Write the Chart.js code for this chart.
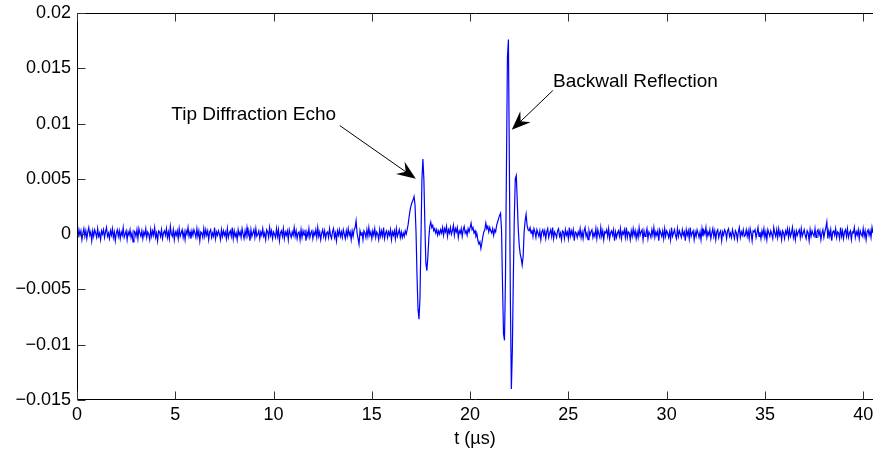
<!DOCTYPE html>
<html>
<head>
<meta charset="utf-8">
<script src="https://cdn.jsdelivr.net/npm/chart.js@4.4.0/dist/chart.umd.min.js"></script>
<style>
html, body { margin: 0; padding: 0; background: #fff; overflow: hidden; }
#wrap { width: 873px; height: 452px; }
</style>
</head>
<body>
<div id="wrap"><canvas id="myChart" width="873" height="452"></canvas></div>
<script>
// scope trace, one amplitude every 0.05 us
var sampleStep = 0.05;

// 0.00 .. 16.95 us
var leadIn = [
 .0002,-.0003,.0004,-.0001,.0003,-.0005,.0001,.0005,-.0002,.0003,
 -.0004,.0002,.0006,-.0001,.0002,-.0006,.0003,-.0002,.0004,.0001,
 -.0003,.0005,-.0002,.0001,-.0005,.0003,.0000,.0004,-.0003,.0002,
 .0006,-.0002,.0001,-.0004,.0003,-.0001,.0005,-.0003,.0002,-.0006,
 .0001,.0004,-.0002,.0003,-.0004,.0002,-.0001,.0006,-.0003,.0000,
 .0003,-.0005,.0002,-.0001,.0004,-.0003,.0001,-.0007,.0003,.0002,
 -.0002,.0004,-.0004,.0005,.0001,-.0002,.0003,-.0004,.0002,-.0001,
 .0005,-.0003,.0002,.0000,-.0005,.0004,-.0002,.0003,-.0001,.0006,
 -.0003,.0001,-.0006,.0003,.0002,-.0002,.0004,-.0004,.0001,.0003,
 -.0001,.0005,-.0003,.0002,-.0004,.0007,.0000,-.0002,.0004,-.0005,
 .0002,-.0001,.0003,-.0004,.0005,-.0002,.0001,.0004,-.0003,.0002,
 -.0005,.0003,.0000,.0006,-.0002,.0002,-.0004,.0003,-.0001,.0004,
 .0001,-.0003,.0005,-.0002,.0003,-.0006,.0002,.0001,-.0003,.0005,
 -.0002,.0004,-.0001,.0003,-.0005,.0002,.0004,-.0003,.0001,-.0002,
 .0006,-.0004,.0002,-.0001,.0003,.0000,-.0005,.0004,-.0002,.0003,
 -.0001,.0002,-.0004,.0005,-.0003,.0001,.0003,-.0002,.0006,-.0004,
 .0003,-.0002,.0001,-.0005,.0004,-.0001,.0002,-.0003,.0005,.0000,
 -.0004,.0003,-.0002,.0006,-.0001,.0002,-.0006,.0004,-.0002,.0001,
 .0004,-.0003,.0005,-.0002,.0000,.0003,-.0004,.0002,-.0001,.0005,
 -.0002,.0001,-.0005,.0004,.0002,-.0003,.0006,-.0001,.0003,-.0004,
 .0002,.0000,-.0003,.0005,-.0002,.0004,-.0006,.0001,.0003,-.0002,
 .0005,-.0004,.0002,-.0001,.0003,-.0005,.0004,.0000,-.0003,.0002,
 -.0001,.0006,-.0002,.0003,-.0004,.0001,.0002,-.0005,.0004,-.0003,
 .0003,-.0001,.0004,-.0006,.0002,-.0002,.0005,-.0003,.0001,.0003,
 -.0004,.0002,-.0001,.0004,-.0003,.0006,-.0002,.0002,-.0005,.0001,
 .0004,-.0002,.0003,-.0004,.0001,.0002,-.0003,.0005,-.0001,-.0004,
 .0002,.0005,-.0003,.0001,-.0006,.0003,-.0001,.0004,-.0002,.0002,
 -.0003,.0004,.0000,-.0004,.0003,-.0002,.0005,-.0001,.0002,-.0005,
 .0003,-.0002,.0004,.0006,.0012,.0001,-.0004,-.0009,.0003,-.0001,
 .0002,-.0005,.0003,.0001,-.0003,.0004,-.0002,.0006,-.0001,.0002,
 -.0004,.0003,-.0001,.0005,-.0003,.0002,.0000,-.0005,.0004,-.0002,
 .0003,-.0002,.0006,-.0004,.0001,.0003,-.0003,.0002,-.0001,.0004,
 -.0005,.0002,-.0001,.0003,-.0004,.0005,-.0002,.0001,.0004,-.0003,
 .0002,-.0003,.0001,-.0002,.0003,.0000,.0004,.0009,.0016,.0022
];

// 17.00 .. 18.45 us
var tipEcho = [
 .0026,.0029,.0031,.0034,.0026,.0002,-.0038,-.0068,-.0077,-.0058,
 -.0005,.0050,.0068,.0049,.0008,-.0026,-.0033,-.0021,-.0004,.0007,
 .0011,.0006,.0008,.0003,.0005,.0001,.0004,-.0001,.0003,.0000
];

// 18.50 .. 21.45 us
var midGap = [
 .0004,.0001,.0006,-.0001,.0005,.0002,.0007,-.0002,.0004,.0001,
 .0006,.0000,.0003,.0008,-.0001,.0005,.0002,.0006,-.0003,.0003,
 .0001,.0005,-.0002,.0004,.0007,.0001,.0003,-.0001,.0005,.0002,
 .0006,.0010,.0004,.0006,.0001,.0003,-.0002,.0000,-.0006,-.0009,
 -.0007,-.0013,-.0008,-.0002,.0002,.0004,.0010,.0005,.0007,.0002,
 .0006,.0003,.0001,.0005,-.0001,.0004,.0002,.0008,.0011,.0014
];

// 21.50 .. 22.95 us
var backwallEcho = [
 .0017,.0019,.0004,-.0045,-.0090,-.0096,-.0040,.0060,.0160,.0176,
 .0060,-.0060,-.0140,-.0105,-.0040,.0015,.0050,.0053,.0030,.0005,
 -.0010,-.0018,-.0022,-.0028,-.0020,.0002,.0012,.0018,.0008,.0004
];

// 23.00 .. 40.50 us
var tail = [
 .0003,.0006,.0001,.0004,-.0002,.0005,.0002,-.0003,.0004,.0001,
 -.0002,.0003,-.0005,.0002,.0004,-.0001,.0003,-.0004,.0002,.0005,
 -.0003,.0001,.0004,-.0002,.0006,-.0004,.0002,.0000,-.0003,.0003,
 .0005,-.0002,.0001,-.0005,.0003,.0002,-.0004,.0004,-.0001,.0002,
 -.0004,.0006,-.0002,.0003,-.0001,.0004,-.0006,.0002,.0001,-.0003,
 .0002,-.0001,.0005,-.0003,.0002,-.0004,.0003,.0006,-.0002,.0001,
 -.0005,.0003,-.0001,.0002,.0004,-.0003,.0001,-.0002,.0005,-.0004,
 .0004,.0000,-.0003,.0006,-.0002,.0003,-.0005,.0002,.0001,.0004,
 -.0002,.0005,-.0004,.0001,.0003,-.0001,.0004,-.0006,.0002,-.0003,
 .0001,.0003,-.0002,.0005,-.0004,.0002,.0000,.0004,-.0003,.0006,
 -.0003,.0002,.0001,-.0005,.0003,-.0002,.0005,-.0001,.0003,-.0004,
 .0002,-.0003,.0006,-.0001,.0002,.0004,-.0005,.0003,-.0002,.0001,
 .0005,-.0004,.0002,.0000,-.0003,.0004,-.0001,.0006,-.0003,.0002,
 -.0001,.0003,-.0006,.0004,.0001,-.0002,.0003,-.0004,.0005,-.0002,
 .0003,.0001,-.0003,.0002,-.0005,.0006,-.0002,.0001,.0004,-.0001,
 -.0004,.0005,-.0002,.0003,.0000,-.0003,.0004,-.0001,.0002,-.0006,
 .0004,-.0001,.0003,-.0004,.0006,-.0002,.0001,.0003,-.0005,.0002,
 -.0002,.0004,.0001,-.0003,.0002,-.0005,.0005,-.0002,.0003,.0000,
 .0006,-.0003,.0002,-.0001,.0004,-.0004,.0001,.0005,-.0002,.0003,
 -.0005,.0002,.0004,-.0003,.0001,.0003,-.0006,.0002,-.0001,.0004,
 .0002,-.0004,.0003,.0005,-.0002,.0001,-.0003,.0004,.0000,-.0004,
 .0003,.0001,-.0005,.0002,.0006,-.0003,.0002,-.0001,.0004,-.0002,
 -.0001,.0004,-.0002,.0003,-.0004,.0005,.0001,-.0006,.0003,.0002,
 .0004,-.0003,.0001,.0006,-.0002,.0002,-.0004,.0003,-.0001,.0005,
 -.0003,.0002,-.0005,.0004,.0001,-.0002,.0003,.0000,-.0004,.0006,
 .0001,-.0002,.0004,-.0003,.0005,-.0001,.0002,-.0005,.0003,.0001,
 -.0004,.0003,.0000,.0005,-.0003,.0004,-.0002,.0001,.0006,-.0003,
 .0002,-.0005,.0003,-.0001,.0002,.0004,-.0003,.0005,-.0002,.0001,
 .0004,-.0001,-.0004,.0003,.0001,-.0006,.0004,-.0002,.0003,.0000,
 -.0002,.0005,-.0003,.0002,.0004,-.0001,.0003,-.0005,.0001,.0004,
 -.0003,.0002,.0006,.0011,-.0004,.0003,-.0002,.0004,-.0006,.0002,
 .0003,-.0001,.0005,-.0003,.0002,.0001,-.0004,.0006,-.0002,.0003,
 -.0004,.0002,.0004,-.0002,.0005,-.0003,.0001,.0003,-.0005,.0002,
 .0001,.0006,-.0003,.0002,-.0001,.0004,-.0004,.0003,.0000,-.0002,
 .0005,-.0002,.0003,-.0005,.0002,.0004,-.0001,.0003,-.0003,.0006,
 .0001
];

var segments = [
  { start: 0, values: leadIn },
  { start: 17.0, values: tipEcho },
  { start: 18.5, values: midGap },
  { start: 21.5, values: backwallEcho },
  { start: 23.0, values: tail }
];

var xTicks = [0, 5, 10, 15, 20, 25, 30, 35, 40];
var yTicks = [-0.015, -0.01, -0.005, 0, 0.005, 0.01, 0.015, 0.02];

// annotation text and arrows, in data units
var notes = [
  { text: 'Tip Diffraction Echo', tx: 4.8, ty: 0.01035, from: [13.37, 0.00982], to: [17.24, 0.0050] },
  { text: 'Backwall Reflection', tx: 24.22, ty: 0.01329, from: [24.21, 0.01299], to: [22.12, 0.00943] }
];

var points = [];
segments.forEach(function (s) {
  s.values.forEach(function (v, i) {
    points.push({ x: +(s.start + i * sampleStep).toFixed(2), y: v });
  });
});

var FONT = 'Liberation Sans, Arial, Helvetica, sans-serif';

function fmt(v) {
  return String(Number(v.toFixed(4))).replace('-', '\u2212');
}

var matlabFrame = {
  id: 'matlabFrame',
  afterDatasetsDraw: function (chart) {
    var c = chart.ctx, a = chart.chartArea;
    var xs = chart.scales.x, ys = chart.scales.y;
    var L = Math.round(a.left) + 0.5, R = Math.round(a.right) + 0.5;
    var T = Math.round(a.top) + 0.5, B = Math.round(a.bottom) - 0.5;
    c.save();
    c.strokeStyle = '#000';
    c.lineWidth = 1;
    c.beginPath();
    c.moveTo(L, T); c.lineTo(R, T);
    c.moveTo(L, T); c.lineTo(L, B);
    c.moveTo(L, B); c.lineTo(R, B);
    c.stroke();
    // inward tick marks
    c.strokeStyle = '#333';
    c.beginPath();
    xTicks.forEach(function (t) {
      var px = Math.round(xs.getPixelForValue(t)) + 0.5;
      c.moveTo(px, B); c.lineTo(px, B - 8);
      c.moveTo(px, T); c.lineTo(px, T + 8);
    });
    yTicks.forEach(function (t) {
      var py = Math.round(ys.getPixelForValue(t)) + 0.5;
      c.moveTo(L, py); c.lineTo(L + 8, py);
    });
    c.stroke();

    // annotations
    c.fillStyle = '#000';
    c.strokeStyle = '#000';
    c.font = '19px ' + FONT;
    c.textBaseline = 'alphabetic';
    c.textAlign = 'left';
    notes.forEach(function (n) {
      c.fillText(n.text, xs.getPixelForValue(n.tx), ys.getPixelForValue(n.ty));
      var x0 = xs.getPixelForValue(n.from[0]), y0 = ys.getPixelForValue(n.from[1]);
      var x1 = xs.getPixelForValue(n.to[0]), y1 = ys.getPixelForValue(n.to[1]);
      var dx = x1 - x0, dy = y1 - y0, len = Math.sqrt(dx * dx + dy * dy);
      var ux = dx / len, uy = dy / len, nx = -uy, ny = ux;
      var hl = 19, hw = 7.5;
      c.lineWidth = 1;
      c.beginPath();
      c.moveTo(x0, y0);
      c.lineTo(x1 - ux * hl * 0.6, y1 - uy * hl * 0.6);
      c.stroke();
      c.beginPath();
      c.moveTo(x1, y1);
      c.lineTo(x1 - ux * hl + nx * hw, y1 - uy * hl + ny * hw);
      c.lineTo(x1 - ux * hl * 0.65, y1 - uy * hl * 0.65);
      c.lineTo(x1 - ux * hl - nx * hw, y1 - uy * hl - ny * hw);
      c.closePath();
      c.fill();
    });
    c.restore();
  }
};

var ctx = document.getElementById('myChart');
var myChart = new Chart(ctx, {
  type: 'line',
  data: {
    datasets: [{
      data: points,
      borderColor: 'rgb(0, 0, 255)',
      borderWidth: 1.2,
      pointRadius: 0,
      tension: 0,
      fill: false
    }]
  },
  options: {
    responsive: false,
    devicePixelRatio: 1,
    animation: false,
    layout: { padding: { top: 13, right: 0, left: 0, bottom: 0 } },
    plugins: { legend: { display: false }, tooltip: { enabled: false } },
    scales: {
      x: {
        type: 'linear',
        min: 0,
        max: 40.5,
        afterBuildTicks: function (s) { s.ticks = xTicks.map(function (v) { return { value: v }; }); },
        afterFit: function (s) { s.height = 52; s.paddingLeft = 0; s.paddingRight = 0; },
        grid: { display: false, drawTicks: false },
        border: { display: false },
        ticks: {
          autoSkip: false,
          maxRotation: 0,
          padding: 4,
          color: '#000',
          font: { family: FONT, size: 18 },
          callback: function (v) { return fmt(v); }
        },
        title: {
          display: true,
          text: 't (\u00b5s)',
          color: '#000',
          font: { family: FONT, size: 18 },
          padding: { top: 0, bottom: 2 }
        }
      },
      y: {
        min: -0.015,
        max: 0.02,
        afterBuildTicks: function (s) { s.ticks = yTicks.map(function (v) { return { value: v }; }); },
        afterFit: function (s) { s.width = 77; s.paddingTop = 0; s.paddingBottom = 0; },
        grid: { display: false, drawTicks: false },
        border: { display: false },
        ticks: {
          autoSkip: false,
          padding: 6,
          color: '#000',
          font: { family: FONT, size: 18 },
          callback: function (v) { return fmt(v); }
        }
      }
    }
  },
  plugins: [matlabFrame]
});
</script>
</body>
</html>
